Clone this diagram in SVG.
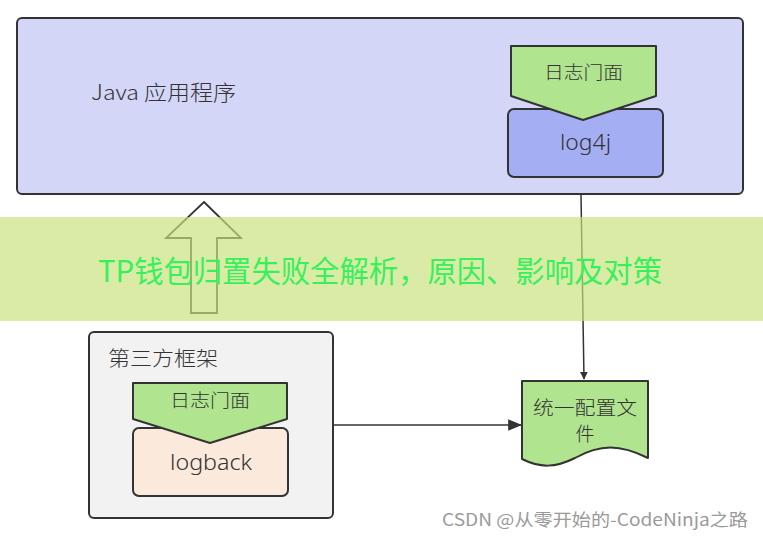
<svg xmlns="http://www.w3.org/2000/svg" width="763" height="539" viewBox="0 0 763 539">
<defs>
<style>
.s{stroke:#333;stroke-width:2;stroke-linejoin:round}
.t{font-family:"Noto Sans CJK SC","Noto Sans",sans-serif;fill:#333;font-weight:300}
.l{font-family:"Noto Sans","Noto Sans CJK SC",sans-serif;fill:#333;font-weight:300}
.c{stroke:#333;stroke-width:1.5;fill:none}
</style>
<marker id="ah" viewBox="0 0 10 10" refX="9" refY="5" markerWidth="8" markerHeight="8" markerUnits="userSpaceOnUse" orient="auto">
<path d="M0,0 L10,5 L0,10 z" fill="#333"/>
</marker>
<marker id="ah2" viewBox="0 0 12 10" refX="11" refY="5" markerWidth="14" markerHeight="12" markerUnits="userSpaceOnUse" orient="auto">
<path d="M0,0 L12,5 L0,10 z" fill="#333"/>
</marker>
</defs>
<rect width="763" height="539" fill="#fff"/>

<g id="java-app">
<rect x="17" y="18" width="726" height="176" rx="5" fill="#d4d6f8" class="s"/>
<text x="91" y="100" font-size="21" textLength="145" lengthAdjust="spacingAndGlyphs" class="t">Java 应用程序</text>
</g>

<g id="log4j">
<rect x="508" y="109" width="155" height="68" rx="6" fill="#a4aef2" class="s"/>
<text x="560" y="150" font-size="21" textLength="51" lengthAdjust="spacingAndGlyphs" class="l">log4j</text>
</g>
<g id="facade1">
<path d="M511,46 L656,46 L656,96 L583,120 L511,96 Z" fill="#b0e48f" class="s" stroke-width="1.8"/>
<text x="544" y="79" font-size="18" textLength="79" lengthAdjust="spacingAndGlyphs" class="t">日志门面</text>
</g>

<g id="third-party">
<rect x="89" y="332" width="244" height="186" rx="5" fill="#f2f2f2" class="s"/>
<text x="108" y="366" font-size="20" textLength="110" lengthAdjust="spacingAndGlyphs" class="t">第三方框架</text>
</g>
<g id="logback">
<rect x="133" y="428" width="155" height="68" rx="6" fill="#fbe9db" class="s"/>
<text x="170" y="470" font-size="21" textLength="82" lengthAdjust="spacingAndGlyphs" class="l">logback</text>
</g>
<g id="facade2">
<path d="M133,383 L287,383 L287,419 L210,443 L133,419 Z" fill="#b0e48f" class="s" stroke-width="1.8"/>
<text x="170" y="407" font-size="18" textLength="80" lengthAdjust="spacingAndGlyphs" class="t">日志门面</text>
</g>

<g id="config">
<path d="M522,381 L648,381 L648,458 C620,444 600,444 575,458 C555,468 540,468 522,459 Z" fill="#b0e48f" class="s" stroke-width="1.8"/>
<text x="533" y="415" font-size="19" textLength="104" lengthAdjust="spacingAndGlyphs" class="t">统一配置文</text>
<text x="585" y="441" font-size="19" text-anchor="middle" class="t">件</text>
</g>

<g id="connectors">
<path d="M581,195 L584,379" class="c" marker-end="url(#ah)"/>
<path d="M334,425 L521,425" class="c" marker-end="url(#ah2)"/>
<path d="M204,202 L241,238 L217,238 L217,313 L191,313 L191,238 L166,238 Z" fill="none" stroke="#333" stroke-width="1.8" stroke-linejoin="miter"/>
</g>

<g id="banner">
<rect x="0" y="217" width="763" height="104" fill="#c8e27c" opacity="0.68"/>
<text x="98" y="282" font-size="30" textLength="564" lengthAdjust="spacingAndGlyphs" font-family="'Noto Sans CJK SC',sans-serif" fill="#36f05c">TP钱包归置失败全解析，原因、影响及对策</text>
</g>

<text x="442" y="526" font-size="17" textLength="306" lengthAdjust="spacingAndGlyphs" font-family="'Noto Sans CJK SC',sans-serif" fill="#9a9a9a">CSDN @从零开始的-CodeNinja之路</text>
</svg>
